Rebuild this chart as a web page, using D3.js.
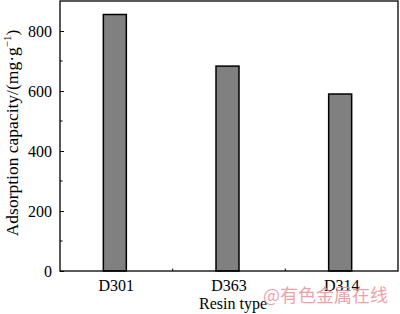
<!DOCTYPE html>
<html>
<head>
<meta charset="utf-8">
<script src="https://d3js.org/d3.v7.min.js"></script>
<style>
  body { margin: 0; background: #fff; }
  svg { display: block; }
</style>
</head>
<body>
<svg class="chart" width="400" height="314"></svg>
<script>
// chart values
const resins = ["D301", "D363", "D314"];
const capacity = [855, 683, 590];
const yTicks = [0, 200, 400, 600, 800];
const yMinor = [100, 300, 500, 700];

const width = 400, height = 314;
const margin = { top: 1, right: 2, bottom: 43, left: 60 };

const svg = d3.select(".chart");
const g = svg.append("g").attr("transform", `translate(${margin.left},${margin.top})`);
const w = width - margin.left - margin.right;
const h = height - margin.top - margin.bottom;

const x = d3.scaleBand().domain(resins).range([0, w]);
const y = d3.scaleLinear().domain([0, 900]).range([h, 0]);

const barW = 23;

// bars
g.selectAll(".bar")
  .data(resins)
  .join("rect")
  .attr("class", "bar")
  .attr("x", d => x(d) + x.bandwidth() / 2 - barW / 2 - 1.5)
  .attr("y", (d, i) => y(capacity[i]))
  .attr("width", barW)
  .attr("height", (d, i) => h - y(capacity[i]))
  .attr("fill", "#808080")
  .attr("stroke", "#000")
  .attr("stroke-width", 1.5);

// frame
g.append("rect")
  .attr("x", 0).attr("y", 0)
  .attr("width", w).attr("height", h)
  .attr("fill", "none")
  .attr("stroke", "#000")
  .attr("stroke-width", 1.3);

// y axis, ticks inward
const yAxis = g.append("g")
  .call(d3.axisLeft(y).tickValues(yTicks).tickSize(-4).tickPadding(8).tickFormat(d3.format("d")));
yAxis.select(".domain").remove();
yAxis.selectAll("text")
  .attr("font-family", "'Liberation Serif', 'Times New Roman', serif")
  .attr("font-size", 16)
  .attr("fill", "#000");
g.selectAll(".yminor")
  .data(yMinor)
  .join("line")
  .attr("x1", 0).attr("x2", 2.5)
  .attr("y1", d => y(d)).attr("y2", d => y(d))
  .attr("stroke", "#000");

// x axis labels and minor ticks between groups
const xAxis = g.append("g")
  .attr("transform", `translate(0,${h})`)
  .call(d3.axisBottom(x).tickSize(0).tickPadding(9));
xAxis.select(".domain").remove();
xAxis.selectAll("text")
  .attr("font-family", "'Liberation Serif', 'Times New Roman', serif")
  .attr("font-size", 16)
  .attr("fill", "#000");
g.selectAll(".xminor")
  .data(resins.slice(1))
  .join("line")
  .attr("x1", d => x(d)).attr("x2", d => x(d))
  .attr("y1", h).attr("y2", h - 2.5)
  .attr("stroke", "#000");

// axis titles
svg.append("text")
  .attr("transform", `translate(18,${margin.top + h / 2 - 3}) rotate(-90)`)
  .attr("text-anchor", "middle")
  .attr("font-family", "'Liberation Serif', 'Times New Roman', serif")
  .attr("font-size", 17.5)
  .html("Adsorption capacity/(mg·g<tspan dy='-7' font-size='11'>−1</tspan><tspan dy='7'>)</tspan>");

svg.append("text")
  .attr("x", 233).attr("y", 309)
  .attr("text-anchor", "middle")
  .attr("font-family", "'Liberation Serif', 'Times New Roman', serif")
  .attr("font-size", 16)
  .text("Resin type");

// watermark
svg.append("text")
  .attr("x", 263).attr("y", 302)
  .attr("font-family", "'Noto Sans CJK SC', sans-serif")
  .attr("font-size", 18)
  .attr("fill", "#eb8f99")
  .attr("fill-opacity", 0.85)
  .text("@有色金属在线");
</script>
</body>
</html>
